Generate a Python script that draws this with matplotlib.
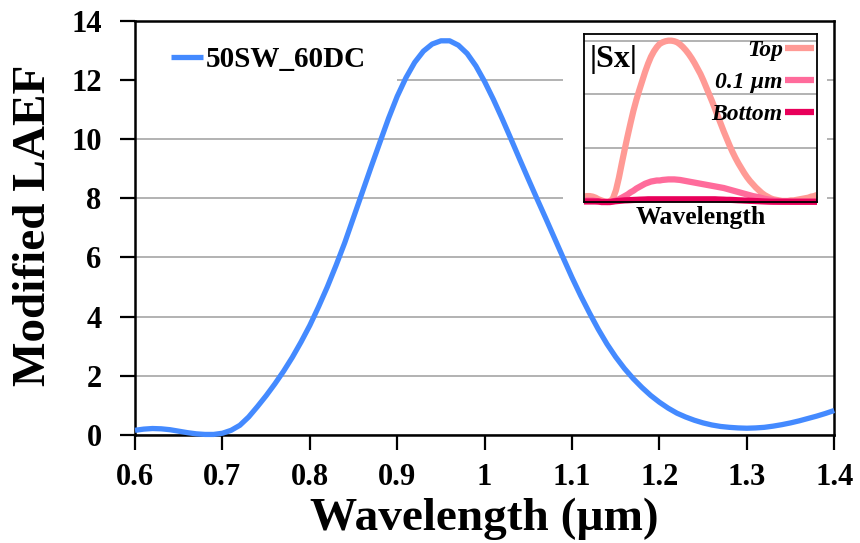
import numpy as np
import matplotlib.pyplot as plt
from matplotlib.patches import Rectangle

plt.rcParams['font.family'] = ['Liberation Serif', 'DejaVu Serif']
plt.rcParams['font.weight'] = 'bold'

# main curve: modified LAEF vs wavelength (um)
wl = np.round(np.arange(0.60, 1.4001, 0.01), 2)
laef = [0.15, 0.19, 0.21, 0.20, 0.17, 0.12, 0.07, 0.03, 0.01, 0.01,
        0.05, 0.15, 0.32, 0.60, 0.95, 1.32, 1.72, 2.15, 2.62, 3.14,
        3.70, 4.33, 5.00, 5.73, 6.50, 7.35, 8.20, 9.05, 9.88, 10.7,
        11.45, 12.08, 12.6, 12.98, 13.22, 13.33, 13.33, 13.18, 12.9, 12.48,
        11.95, 11.35, 10.7, 10.02, 9.33, 8.65, 7.98, 7.32, 6.65, 5.98,
        5.32, 4.70, 4.12, 3.57, 3.07, 2.63, 2.24, 1.90, 1.60, 1.33,
        1.10, 0.90, 0.73, 0.60, 0.49, 0.40, 0.33, 0.28, 0.25, 0.23,
        0.22, 0.23, 0.25, 0.29, 0.34, 0.40, 0.47, 0.55, 0.63, 0.72,
        0.82]

# inset: |Sx| at three heights
sx_top = [0.10, 0.11, 0.11, 0.10, 0.08, 0.05, 0.03, 0.01, 0.00, 0.01,
          0.07, 0.22, 0.45, 0.72, 0.98, 1.23, 1.47, 1.70, 1.90, 2.08,
          2.25, 2.42, 2.57, 2.70, 2.80, 2.88, 2.94, 2.97, 2.99, 3.00,
          3.00, 2.99, 2.97, 2.93, 2.88, 2.82, 2.75, 2.67, 2.58, 2.48,
          2.38, 2.26, 2.13, 2.00, 1.87, 1.73, 1.59, 1.45, 1.31, 1.18,
          1.05, 0.93, 0.82, 0.72, 0.63, 0.54, 0.46, 0.39, 0.33, 0.27,
          0.22, 0.17, 0.13, 0.10, 0.07, 0.05, 0.04, 0.03, 0.02, 0.02,
          0.02, 0.03, 0.03, 0.04, 0.05, 0.06, 0.07, 0.08, 0.10, 0.11,
          0.13]
sx_mid = [0.02, 0.03, 0.03, 0.03, 0.02, 0.01, 0.00, 0.00, 0.00, 0.00,
          0.01, 0.03, 0.05, 0.08, 0.11, 0.14, 0.18, 0.21, 0.25, 0.28,
          0.31, 0.34, 0.36, 0.38, 0.39, 0.40, 0.40, 0.41, 0.415, 0.42,
          0.42, 0.42, 0.415, 0.41, 0.40, 0.39, 0.38, 0.37, 0.36, 0.35,
          0.34, 0.33, 0.32, 0.31, 0.30, 0.29, 0.28, 0.27, 0.26, 0.245,
          0.23, 0.215, 0.20, 0.185, 0.17, 0.155, 0.14, 0.125, 0.11, 0.10,
          0.09, 0.075, 0.06, 0.05, 0.04, 0.03, 0.02, 0.015, 0.01, 0.01,
          0.01, 0.005, 0.005, 0.005, 0.005, 0.005, 0.005, 0.005, 0.005, 0.005,
          0.005]
sx_bot = [0.01, 0.01, 0.01, 0.01, 0.01, 0.01, 0.0, 0.0, 0.0, 0.0,
          0.01, 0.015, 0.02, 0.025, 0.03, 0.032, 0.035, 0.038, 0.04, 0.043,
          0.045, 0.047, 0.05, 0.05, 0.05, 0.05, 0.05, 0.05, 0.05, 0.05,
          0.05, 0.05, 0.05, 0.05, 0.05, 0.05, 0.05, 0.05, 0.05, 0.05,
          0.05, 0.05, 0.05, 0.05, 0.05, 0.05, 0.047, 0.045, 0.043, 0.04,
          0.04, 0.038, 0.035, 0.032, 0.03, 0.027, 0.025, 0.022, 0.02, 0.017,
          0.015, 0.012, 0.01, 0.008, 0.006, 0.005, 0.005, 0.005, 0.005, 0.005,
          0.005, 0.005, 0.005, 0.005, 0.005, 0.005, 0.005, 0.005, 0.005, 0.005,
          0.005]

xticks = [0.6, 0.7, 0.8, 0.9, 1.0, 1.1, 1.2, 1.3, 1.4]
xlabels = ['0.6', '0.7', '0.8', '0.9', '1', '1.1', '1.2', '1.3', '1.4']
yticks = [0, 2, 4, 6, 8, 10, 12, 14]

fig = plt.figure(figsize=(8.6, 5.43), dpi=100)
ax = fig.add_axes([0.157, 0.1994, 0.813, 0.7619])

ax.plot(wl, laef, color='#448AFF', lw=3.8, label='50SW_60DC',
        solid_capstyle='butt', clip_on=False, zorder=3)
ax.set_xlim(0.6, 1.4)
ax.set_ylim(0, 14)
ax.set_xticks(xticks)
ax.set_xticklabels(xlabels)
ax.set_yticks(yticks)
ax.set_axisbelow(True)
ax.yaxis.grid(True, color='#A6A6A6', lw=1.2)
for s in ax.spines.values():
    s.set_linewidth(1.8)
ax.tick_params(axis='both', direction='out', length=11, width=1.6,
               labelsize=22)
ax.tick_params(axis='x', pad=9)
ax.tick_params(axis='y', pad=13)

# white boxes behind the legend and the inset
ax.add_patch(Rectangle((0.6, 11.45), 0.3, 2.4, facecolor='white',
                       edgecolor='none', zorder=1))
ax.add_patch(Rectangle((1.09, 6.8), 0.302, 7.15, facecolor='white',
                       edgecolor='none', zorder=1))

ax.legend(loc='upper left', bbox_to_anchor=(0.0515, 0.94), frameon=False,
          borderpad=0, borderaxespad=0, handlelength=1.1, handletextpad=0.1,
          prop={'size': 21, 'weight': 'bold'})

fig.text(0.5635, 0.024, 'Wavelength (µm)', ha='center', va='baseline',
         fontsize=34, fontweight='bold')
fig.text(0.04, 0.585, 'Modified LAEF', ha='center', va='center',
         rotation=90, fontsize=34, fontweight='bold')

# inset
axi = fig.add_axes([0.679, 0.628, 0.271, 0.309])
axi.plot(wl, sx_top, color='#FF9A95', lw=4.5, label='Top',
         solid_capstyle='butt', clip_on=False)
axi.plot(wl, sx_mid, color='#FF6B9B', lw=4.5, label='0.1 µm',
         solid_capstyle='butt', clip_on=False)
axi.plot(wl, sx_bot, color='#E8005A', lw=4.5, label='Bottom',
         solid_capstyle='butt', clip_on=False)
axi.set_xlim(0.6, 1.4)
axi.set_ylim(0, 3.12)
axi.set_yticks([1, 2, 3])
axi.set_xticks([])
axi.tick_params(axis='y', length=0, labelleft=False)
axi.yaxis.grid(True, color='#A6A6A6', lw=1.2)
axi.set_axisbelow(True)
for s in axi.spines.values():
    s.set_linewidth(1.3)
axi.text(0.026, 0.85, '|Sx|', transform=axi.transAxes, ha='left',
         va='center', fontsize=23, fontweight='bold')
axi.set_xlabel('Wavelength', fontsize=18.5, fontweight='bold', labelpad=3)
axi.legend(loc='upper right', bbox_to_anchor=(0.985, 0.97), frameon=False,
           markerfirst=False, borderpad=0, borderaxespad=0,
           handlelength=1.2, handletextpad=0.1, labelspacing=0.45,
           prop={'size': 17, 'weight': 'bold', 'style': 'italic'})

fig.savefig('out.png', dpi=100)
